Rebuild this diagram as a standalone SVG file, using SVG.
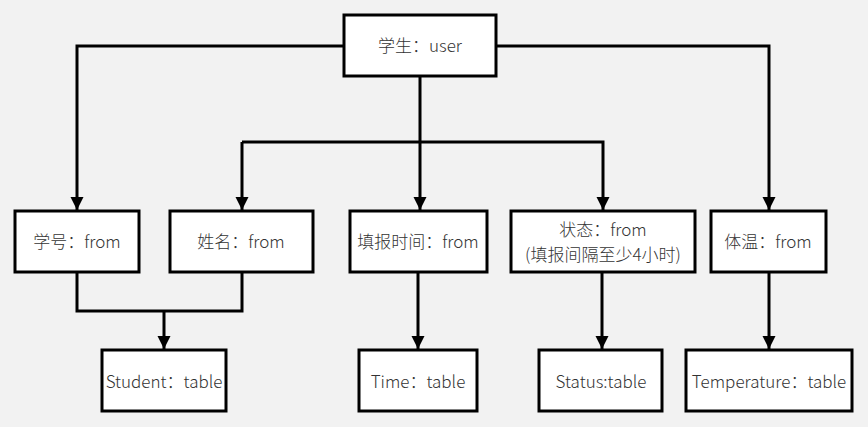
<svg xmlns="http://www.w3.org/2000/svg" width="868" height="427" viewBox="0 0 868 427">
<defs>
<marker id="arr" viewBox="0 0 10 10" refX="10" refY="5" markerWidth="4.4" markerHeight="5" orient="auto" markerUnits="strokeWidth">
<path d="M0,0 L10,5 L0,10 z" fill="#000"/>
</marker>
</defs>
<style>
.box{fill:#fff;stroke:#000;stroke-width:3}
.t{font-family:"Noto Sans CJK SC","Noto Sans",sans-serif;font-size:17px;font-weight:300;fill:#333;text-anchor:middle}
.c{fill:none;stroke:#000;stroke-width:3}
.a{marker-end:url(#arr)}
</style>
<rect width="868" height="427" fill="#f2f2f2"/>
<g id="connectors">
<path class="c a" d="M344,46 H77 V210"/>
<path class="c a" d="M496,46 H769 V210"/>
<path class="c a" d="M420,76 V210"/>
<path class="c a" d="M242,142 H603 V210"/>
<path class="c a" d="M242,142 V210"/>
<path class="c" d="M77,272 V311 H242 V272"/>
<path class="c a" d="M164,311 V349"/>
<path class="c a" d="M418,272 V349"/>
<path class="c a" d="M602,272 V349"/>
<path class="c a" d="M769,272 V349"/>
</g>
<g id="user"><rect class="box" x="344" y="15" width="152" height="61"/><text class="t" x="420" y="52">学生：user</text></g>
<g id="xuehao"><rect class="box" x="15" y="211" width="124" height="61"/><text class="t" x="77" y="248">学号：from</text></g>
<g id="xingming"><rect class="box" x="170" y="211" width="143" height="61"/><text class="t" x="241" y="248">姓名：from</text></g>
<g id="tianbao"><rect class="box" x="350" y="211" width="137" height="61"/><text class="t" x="418" y="248">填报时间：from</text></g>
<g id="zhuangtai"><rect class="box" x="511" y="211" width="184" height="61"/><text class="t" x="603" y="236">状态：from</text><text class="t" x="603" y="261">(填报间隔至少4小时)</text></g>
<g id="tiwen"><rect class="box" x="711" y="211" width="115" height="61"/><text class="t" x="768" y="248">体温：from</text></g>
<g id="student"><rect class="box" x="102" y="350" width="124" height="61"/><text class="t" x="164" y="388">Student：table</text></g>
<g id="time"><rect class="box" x="359" y="350" width="118" height="61"/><text class="t" x="418" y="388">Time：table</text></g>
<g id="status"><rect class="box" x="539" y="350" width="123" height="61"/><text class="t" x="601" y="388">Status:table</text></g>
<g id="temperature"><rect class="box" x="686" y="350" width="166" height="61"/><text class="t" x="769" y="388">Temperature：table</text></g>
</svg>
